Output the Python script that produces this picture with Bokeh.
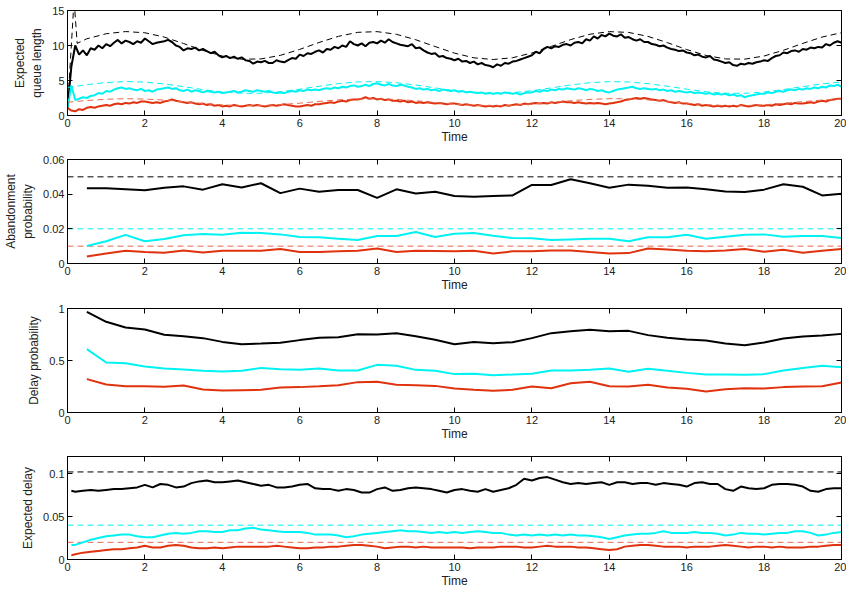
import numpy as np
from bokeh.plotting import figure
from bokeh.layouts import column
from bokeh.models import Range1d, FixedTicker, LinearAxis, CustomJSTickFormatter
from bokeh.embed import file_html
from bokeh.resources import INLINE

FONT = "Liberation Sans"
BLACK = "#000000"
CYAN = "#00F2F2"
RED = "#E0320E"
RED_DASH = "#E8684E"

# ---------------- data ----------------
x_ticks = [0, 2, 4, 6, 8, 10, 12, 14, 16, 18, 20]

# Panel 1: expected queue length (simulation, every 0.1 time unit)
t_queue = np.round(np.arange(201) * 0.1, 1)
queue_black = [
    1.0, 7.0, 10.0, 8.7, 9.3, 8.6, 9.6, 9.4, 10.0, 9.6,
    10.2, 9.9, 10.4, 10.8, 10.3, 10.7, 10.5, 10.2, 10.6, 10.4,
    11.0, 10.6, 10.2, 10.4, 10.5, 10.6, 10.8, 10.5, 10.0, 9.8,
    9.3, 9.6, 9.5, 9.7, 9.3, 9.5, 9.2, 8.9, 9.1, 8.6,
    8.3, 8.5, 8.2, 8.4, 8.1, 8.3, 7.9, 7.8, 7.4, 7.7,
    7.6, 7.8, 7.5, 7.5, 7.9, 7.7, 7.6, 7.9, 8.2, 8.1,
    8.7, 8.5, 8.9, 8.8, 9.1, 9.3, 9.0, 9.5, 9.4, 9.8,
    9.6, 10.0, 9.8, 10.6, 10.2, 10.0, 10.3, 9.9, 10.4, 10.5,
    10.3, 10.7, 10.4, 10.9, 10.5, 10.3, 10.1, 10.0, 9.9, 10.2,
    9.6, 9.7, 9.3, 9.0, 8.8, 8.9, 8.4, 8.5, 8.2, 8.1,
    7.9, 8.1, 7.7, 7.8, 7.5, 7.7, 7.3, 7.5, 7.2, 7.1,
    6.9, 7.3, 7.1, 7.5, 7.4, 7.7, 7.8, 8.0, 8.2, 8.4,
    8.6, 9.1, 8.9, 9.5, 9.8, 9.6, 9.9, 9.8, 10.1, 10.2,
    10.0, 10.4, 10.5, 10.3, 10.9, 10.7, 11.3, 11.0, 11.5, 11.3,
    11.7, 11.4, 11.3, 11.6, 11.1, 11.2, 10.9, 10.7, 10.9, 10.5,
    10.5, 10.2, 10.1, 9.9, 10.0, 9.7, 9.5, 9.4, 9.2, 9.3,
    9.0, 8.9, 8.6, 8.7, 8.4, 8.3, 8.5, 8.0, 7.9, 7.7,
    7.5, 7.6, 7.2, 7.1, 7.4, 7.3, 7.5, 7.4, 7.6, 7.7,
    7.9, 7.8, 8.2, 8.5, 8.6, 9.0, 8.9, 9.2, 9.3, 9.1,
    9.5, 9.4, 9.7, 9.6, 9.8, 9.7, 10.2, 10.0, 10.4, 10.6,
    10.4,
]
queue_cyan = [
    1.0, 4.3, 2.2, 2.4, 2.6, 2.5, 2.8, 2.9, 3.2, 3.1,
    3.5, 3.4, 3.7, 3.9, 4.0, 3.8, 3.9, 3.7, 3.6, 3.8,
    3.5, 3.6, 3.4, 3.7, 3.8, 3.9, 4.0, 3.8, 3.9, 3.6,
    3.5, 3.7, 3.4, 3.6, 3.5, 3.3, 3.5, 3.4, 3.3, 3.4,
    3.2, 3.3, 3.4, 3.5, 3.3, 3.4, 3.6, 3.5, 3.4, 3.6,
    3.5, 3.4, 3.5, 3.3, 3.2, 3.3, 3.2, 3.4, 3.5, 3.4,
    3.6, 3.5, 3.7, 3.6, 3.7, 3.6, 3.8, 3.9, 3.8, 4.0,
    3.9, 4.1, 4.0, 4.2, 4.3, 4.1, 4.2, 4.4, 4.2, 4.5,
    4.6, 4.4, 4.3, 4.5, 4.3, 4.2, 4.4, 4.3, 4.1, 4.0,
    3.8, 3.9, 3.7, 3.8, 3.6, 3.7, 3.5, 3.7, 3.6, 3.5,
    3.6, 3.4, 3.5, 3.3, 3.4, 3.3, 3.2, 3.3, 3.1, 3.2,
    3.1, 3.2, 3.1, 3.3, 3.2, 3.1, 3.2, 3.0, 3.2, 3.3,
    3.3, 3.5, 3.4, 3.6, 3.5, 3.7, 3.6, 3.8, 3.7, 3.9,
    3.8, 3.7, 3.9, 3.8, 3.6, 3.8, 3.7, 3.5, 3.6, 3.4,
    3.3, 3.5, 3.7, 3.8, 3.9, 4.0, 4.1, 3.9, 3.8, 3.9,
    3.8, 3.7, 3.8, 3.6, 3.7, 3.5, 3.6, 3.4, 3.5, 3.4,
    3.3, 3.4, 3.2, 3.3, 3.2, 3.1, 3.2, 3.0, 3.1, 3.0,
    3.1, 2.9, 3.0, 2.8, 2.9, 2.6, 2.8, 2.9, 3.0, 3.1,
    3.1, 3.3, 3.2, 3.4, 3.5, 3.4, 3.6, 3.7, 3.6, 3.8,
    3.7, 3.9, 3.8, 4.0, 3.9, 4.1, 4.0, 4.3, 4.2, 4.4,
    4.1,
]
queue_red = [
    1.1, 0.7, 0.6, 0.9, 0.8, 1.1, 1.2, 1.1, 1.3, 1.4,
    1.5, 1.4, 1.6, 1.7, 1.6, 1.8, 1.7, 1.9, 1.8, 2.0,
    2.0, 1.9, 1.8, 1.9, 1.8, 2.0, 2.1, 2.3, 2.1, 2.0,
    1.9, 1.8, 1.9, 1.7, 1.6, 1.7, 1.5, 1.6, 1.4, 1.5,
    1.3, 1.4, 1.3, 1.5, 1.4, 1.3, 1.4, 1.5, 1.4, 1.5,
    1.4, 1.3, 1.4, 1.5, 1.4, 1.5, 1.6, 1.5, 1.4, 1.3,
    1.3, 1.4, 1.5, 1.4, 1.6, 1.6, 1.7, 1.8, 1.9, 1.8,
    2.0, 2.1, 2.0, 2.2, 2.3, 2.3, 2.4, 2.6, 2.4, 2.5,
    2.3, 2.4, 2.2, 2.3, 2.1, 2.1, 2.0, 2.1, 1.9, 2.0,
    1.8, 1.9, 1.8, 1.9, 1.8, 1.7, 1.8, 1.7, 1.6, 1.7,
    1.7, 1.6, 1.5, 1.6, 1.5, 1.4, 1.5, 1.4, 1.3, 1.4,
    1.3, 1.4, 1.3, 1.5, 1.4, 1.5, 1.6, 1.5, 1.7, 1.6,
    1.7, 1.8, 1.7, 1.8, 1.7, 1.9, 1.8, 1.9, 2.0, 1.9,
    1.9, 1.8, 1.9, 1.8, 1.7, 1.8, 1.7, 1.8, 1.7, 1.6,
    1.7, 1.8, 1.9, 2.0, 2.2, 2.3, 2.4, 2.5, 2.4, 2.5,
    2.4, 2.3, 2.2, 2.1, 2.2, 2.0, 1.9, 1.8, 1.9, 1.7,
    1.7, 1.6, 1.5, 1.6, 1.4, 1.5, 1.4, 1.3, 1.4, 1.3,
    1.4, 1.3, 1.4, 1.3, 1.5, 1.4, 1.3, 1.4, 1.5, 1.4,
    1.4, 1.5, 1.4, 1.6, 1.5, 1.6, 1.7, 1.6, 1.8, 1.7,
    1.7, 1.8, 1.9, 1.8, 2.0, 2.1, 2.0, 2.2, 2.3, 2.4,
    2.4,
]

# Panel 1: approximations (dashed), every 0.5 time unit
t_approx = np.round(np.arange(41) * 0.5, 1)
t_approx_black = [0.0, 0.17, 0.25] + list(t_approx[1:])
approx_black = [
    1.0, 16.5, 10.3,
    10.96, 11.68, 11.99, 11.82, 11.20, 10.28, 9.30, 8.49, 8.04, 8.08,
    8.59, 9.44, 10.43, 11.31, 11.88, 11.98, 11.60, 10.82, 9.85, 8.91,
    8.24, 8.00, 8.25, 8.93, 9.87, 10.84, 11.61, 11.98, 11.87, 11.30,
    10.41, 9.42, 8.58, 8.08, 8.05, 8.50, 9.32, 10.30, 11.21, 11.83,
]
approx_cyan = [
    4.00, 4.41, 4.71, 4.85, 4.77, 4.51, 4.12, 3.70, 3.36, 3.17, 3.18,
    3.40, 3.76, 4.18, 4.56, 4.80, 4.84, 4.68, 4.35, 3.94, 3.54,
    3.25, 3.15, 3.26, 3.54, 3.94, 4.36, 4.68, 4.84, 4.79, 4.55,
    4.18, 3.76, 3.39, 3.18, 3.17, 3.36, 3.71, 4.13, 4.51, 4.78,
]
approx_red = [
    1.90, 2.14, 2.32, 2.40, 2.35, 2.20, 1.97, 1.72, 1.52, 1.41, 1.42,
    1.55, 1.76, 2.01, 2.23, 2.37, 2.39, 2.30, 2.11, 1.86, 1.63,
    1.46, 1.40, 1.46, 1.63, 1.87, 2.11, 2.30, 2.40, 2.37, 2.23,
    2.00, 1.76, 1.54, 1.42, 1.41, 1.52, 1.73, 1.98, 2.20, 2.36,
]

# Panels 2 and 3: every 0.5 time unit
t_half = np.round(np.arange(1, 41) * 0.5, 1)
aband_black = [
    0.0434, 0.0434, 0.0428, 0.0422, 0.0437, 0.0445, 0.0426, 0.0457, 0.0439, 0.0463,
    0.0406, 0.0432, 0.0414, 0.0424, 0.0424, 0.0379, 0.0428, 0.0404, 0.0414, 0.0390,
    0.0385, 0.0390, 0.0393, 0.0453, 0.0453, 0.0486, 0.0463, 0.0437, 0.0455, 0.0449,
    0.0437, 0.0439, 0.0428, 0.0416, 0.0412, 0.0426, 0.0457, 0.0443, 0.0393, 0.0402,
]
aband_cyan = [
    0.0101, 0.0128, 0.0165, 0.0128, 0.0141, 0.0163, 0.0170, 0.0166, 0.0178, 0.0176,
    0.0168, 0.0153, 0.0151, 0.0143, 0.0135, 0.0159, 0.0159, 0.0182, 0.0153, 0.0172,
    0.0176, 0.0160, 0.0147, 0.0145, 0.0135, 0.0139, 0.0143, 0.0143, 0.0128, 0.0151,
    0.0151, 0.0166, 0.0143, 0.0155, 0.0166, 0.0168, 0.0155, 0.0159, 0.0159, 0.0147,
]
aband_red = [
    0.0041, 0.0058, 0.0074, 0.0066, 0.0062, 0.0075, 0.0064, 0.0074, 0.0074, 0.0074,
    0.0083, 0.0066, 0.0066, 0.0070, 0.0074, 0.0087, 0.0066, 0.0074, 0.0072, 0.0070,
    0.0074, 0.0058, 0.0070, 0.0070, 0.0075, 0.0075, 0.0066, 0.0058, 0.0060, 0.0087,
    0.0081, 0.0074, 0.0070, 0.0075, 0.0083, 0.0068, 0.0079, 0.0062, 0.0074, 0.0083,
]
aband_targets = [0.05, 0.02, 0.01]

delay_prob_black = [
    0.968, 0.872, 0.817, 0.798, 0.747, 0.734, 0.715, 0.679, 0.657, 0.663,
    0.670, 0.696, 0.718, 0.724, 0.753, 0.750, 0.763, 0.734, 0.700, 0.657,
    0.679, 0.667, 0.676, 0.715, 0.763, 0.782, 0.795, 0.782, 0.785, 0.744,
    0.718, 0.702, 0.692, 0.663, 0.647, 0.673, 0.712, 0.731, 0.740, 0.756,
]
delay_prob_cyan = [
    0.609, 0.481, 0.474, 0.442, 0.423, 0.413, 0.401, 0.394, 0.401, 0.429,
    0.417, 0.410, 0.423, 0.404, 0.404, 0.458, 0.449, 0.410, 0.401, 0.369,
    0.372, 0.359, 0.365, 0.372, 0.404, 0.404, 0.410, 0.423, 0.391, 0.420,
    0.401, 0.381, 0.365, 0.365, 0.362, 0.369, 0.404, 0.429, 0.449, 0.436,
]
delay_prob_red = [
    0.321, 0.269, 0.253, 0.253, 0.247, 0.260, 0.221, 0.212, 0.215, 0.218,
    0.240, 0.244, 0.253, 0.263, 0.292, 0.295, 0.266, 0.263, 0.256, 0.231,
    0.218, 0.208, 0.218, 0.250, 0.234, 0.282, 0.295, 0.253, 0.250, 0.266,
    0.240, 0.228, 0.202, 0.224, 0.234, 0.231, 0.244, 0.250, 0.253, 0.288,
]

# Panel 4: expected delay
t_delay = np.concatenate([[0.1], np.round(np.arange(1, 101) * 0.2, 1)])
delay_black = [
    0.080,
    0.079, 0.080, 0.081, 0.080, 0.081, 0.082, 0.082, 0.083, 0.084, 0.087,
    0.084, 0.088, 0.087, 0.084, 0.085, 0.089, 0.091, 0.092, 0.090, 0.090,
    0.091, 0.092, 0.090, 0.088, 0.086, 0.087, 0.084, 0.084, 0.085, 0.087,
    0.088, 0.083, 0.082, 0.082, 0.080, 0.082, 0.081, 0.078, 0.078, 0.082,
    0.084, 0.080, 0.081, 0.083, 0.084, 0.083, 0.082, 0.080, 0.078, 0.081,
    0.082, 0.080, 0.079, 0.082, 0.079, 0.081, 0.083, 0.087, 0.094, 0.092,
    0.095, 0.096, 0.093, 0.090, 0.088, 0.089, 0.088, 0.089, 0.090, 0.087,
    0.090, 0.090, 0.088, 0.089, 0.089, 0.087, 0.089, 0.088, 0.087, 0.085,
    0.089, 0.090, 0.088, 0.088, 0.082, 0.080, 0.085, 0.083, 0.082, 0.083,
    0.087, 0.088, 0.088, 0.087, 0.085, 0.080, 0.079, 0.082, 0.083, 0.083,
]
delay_cyan = [
    0.017,
    0.017, 0.020, 0.023, 0.025, 0.027, 0.028, 0.029, 0.029, 0.027, 0.026,
    0.026, 0.028, 0.030, 0.031, 0.030, 0.031, 0.033, 0.033, 0.032, 0.032,
    0.034, 0.034, 0.036, 0.037, 0.035, 0.034, 0.033, 0.032, 0.032, 0.032,
    0.031, 0.029, 0.029, 0.029, 0.028, 0.026, 0.027, 0.029, 0.030, 0.031,
    0.032, 0.033, 0.034, 0.033, 0.033, 0.032, 0.031, 0.032, 0.031, 0.032,
    0.031, 0.032, 0.033, 0.032, 0.031, 0.031, 0.029, 0.028, 0.029, 0.028,
    0.029, 0.028, 0.029, 0.028, 0.029, 0.028, 0.028, 0.027, 0.026, 0.024,
    0.026, 0.028, 0.029, 0.030, 0.030, 0.031, 0.033, 0.031, 0.031, 0.031,
    0.032, 0.031, 0.031, 0.030, 0.028, 0.029, 0.031, 0.030, 0.030, 0.029,
    0.030, 0.031, 0.031, 0.033, 0.033, 0.031, 0.028, 0.029, 0.031, 0.032,
]
delay_red = [
    0.005,
    0.006, 0.008, 0.009, 0.010, 0.011, 0.012, 0.012, 0.013, 0.014, 0.016,
    0.014, 0.014, 0.016, 0.017, 0.016, 0.014, 0.013, 0.013, 0.014, 0.013,
    0.014, 0.015, 0.015, 0.015, 0.015, 0.015, 0.016, 0.015, 0.014, 0.013,
    0.013, 0.014, 0.014, 0.015, 0.015, 0.016, 0.017, 0.017, 0.016, 0.015,
    0.013, 0.014, 0.015, 0.015, 0.014, 0.015, 0.014, 0.014, 0.014, 0.014,
    0.014, 0.013, 0.014, 0.014, 0.014, 0.015, 0.015, 0.015, 0.014, 0.014,
    0.015, 0.016, 0.015, 0.015, 0.015, 0.014, 0.014, 0.013, 0.012, 0.011,
    0.012, 0.015, 0.016, 0.017, 0.017, 0.016, 0.015, 0.015, 0.015, 0.014,
    0.015, 0.015, 0.015, 0.016, 0.017, 0.016, 0.015, 0.014, 0.015, 0.015,
    0.014, 0.015, 0.014, 0.014, 0.014, 0.015, 0.015, 0.016, 0.017, 0.017,
]
delay_targets = [0.102, 0.040, 0.020]


# ---------------- figure helper ----------------
def make_fig(height, y_range, y_ticks, y_label, top_border, bottom_border):
    p = figure(width=846, height=height,
               x_range=Range1d(0, 20), y_range=Range1d(*y_range),
               output_backend="svg", toolbar_location=None,
               x_axis_location=None, y_axis_location=None,
               min_border_left=67, min_border_right=5,
               min_border_top=top_border, min_border_bottom=bottom_border)
    p.grid.visible = False
    p.outline_line_color = "black"
    p.outline_line_width = 1
    p.background_fill_color = "white"
    p.border_fill_color = "white"
    num_fmt = CustomJSTickFormatter(code="return String(Math.round(tick*10000)/10000);")
    blank_fmt = CustomJSTickFormatter(code="return '';")
    specs = [
        ("below", x_ticks, num_fmt, "Time"),
        ("above", x_ticks, blank_fmt, None),
        ("left", y_ticks, num_fmt, y_label),
        ("right", y_ticks, blank_fmt, None),
    ]
    for loc, ticks, fmt, lab in specs:
        ax = LinearAxis(ticker=FixedTicker(ticks=ticks), formatter=fmt)
        ax.axis_line_color = "black"
        ax.axis_line_width = 1
        ax.major_tick_in = 5
        ax.major_tick_out = 0
        ax.major_tick_line_color = "black"
        ax.minor_tick_in = 0
        ax.minor_tick_out = 0
        ax.major_label_text_font = FONT
        ax.major_label_text_font_size = "11px"
        ax.major_label_text_color = "#222222"
        ax.major_label_standoff = 0 if fmt is blank_fmt else 3
        if lab is not None:
            ax.axis_label = lab
            ax.axis_label_text_font = FONT
            ax.axis_label_text_font_style = "normal"
            ax.axis_label_text_color = "#222222"
            ax.axis_label_text_font_size = "12px"
            ax.axis_label_standoff = 0 if loc == "below" else 5
        p.add_layout(ax, loc)
    return p


# Panel 1
p1 = make_fig(154, (0, 15), [0, 5, 10, 15], "Expected\nqueue length", 10, 39)
p1.line(t_queue, queue_black, line_color=BLACK, line_width=2)
p1.line(t_queue, queue_cyan, line_color=CYAN, line_width=2)
p1.line(t_queue, queue_red, line_color=RED, line_width=2)
p1.line(t_approx_black, approx_black, line_color=BLACK, line_width=1, line_dash="6 4")
p1.line(t_approx, approx_cyan, line_color=CYAN, line_width=1, line_dash="6 4")
p1.line(t_approx, approx_red, line_color=RED_DASH, line_width=1, line_dash="6 4")

# Panel 2
p2 = make_fig(149, (0, 0.06), [0, 0.02, 0.04, 0.06], "Abandonment\nprobability", 5, 40)
for val, col in zip(aband_targets, [BLACK, CYAN, RED_DASH]):
    p2.line([0, 20], [val, val], line_color=col, line_width=1, line_dash="6 4")
p2.line(t_half, aband_black, line_color=BLACK, line_width=2)
p2.line(t_half, aband_cyan, line_color=CYAN, line_width=2)
p2.line(t_half, aband_red, line_color=RED, line_width=2)

# Panel 3
p3 = make_fig(148, (0, 1), [0, 0.5, 1], "Delay probability", 5, 39)
p3.line(t_half, delay_prob_black, line_color=BLACK, line_width=2)
p3.line(t_half, delay_prob_cyan, line_color=CYAN, line_width=2)
p3.line(t_half, delay_prob_red, line_color=RED, line_width=2)

# Panel 4
p4 = make_fig(139, (0, 0.12), [0, 0.05, 0.1], "Expected delay", 5, 29)
for val, col in zip(delay_targets, [BLACK, CYAN, RED_DASH]):
    p4.line([0, 20], [val, val], line_color=col, line_width=1, line_dash="6 4")
p4.line(t_delay, delay_black, line_color=BLACK, line_width=2)
p4.line(t_delay, delay_cyan, line_color=CYAN, line_width=2)
p4.line(t_delay, delay_red, line_color=RED, line_width=2)

layout = column(p1, p2, p3, p4, spacing=0)
open("out.html", "w").write(file_html(layout, INLINE))
